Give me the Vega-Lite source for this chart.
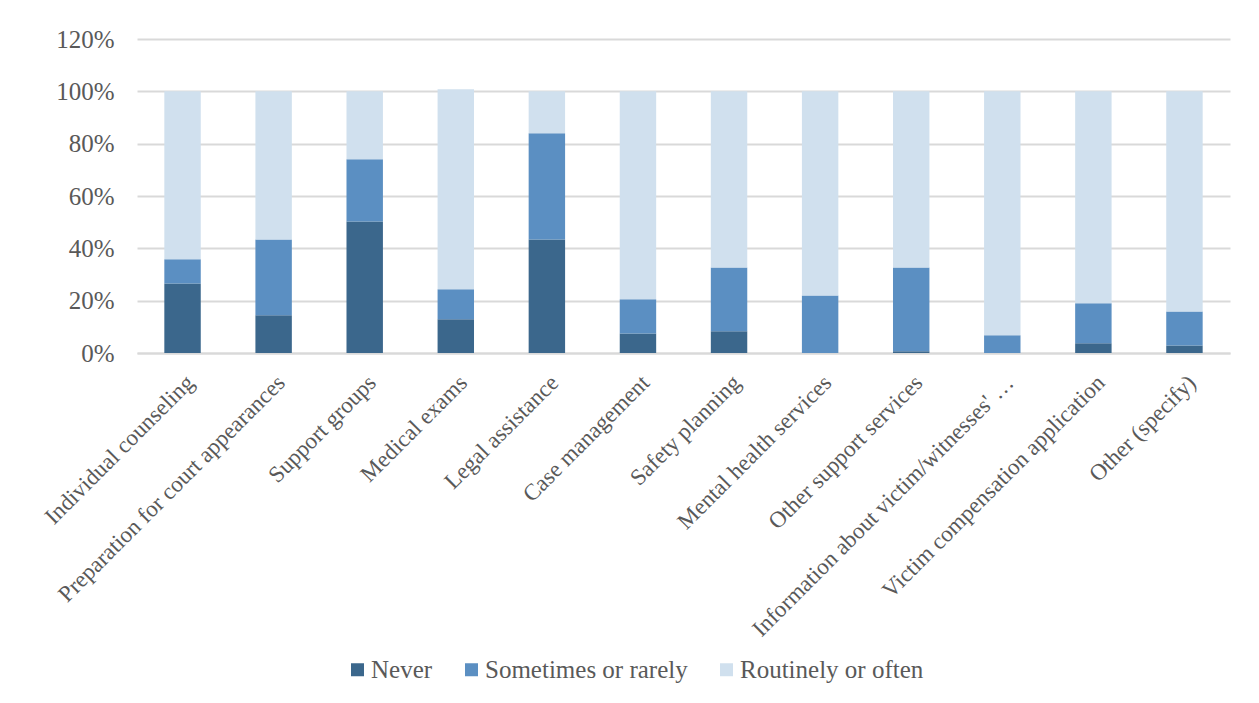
{
  "$schema": "https://vega.github.io/schema/vega-lite/v6.json",
  "autosize": {"type": "none"},
  "padding": {"left": 137, "top": 39, "right": 29, "bottom": 350},
  "width": 1093,
  "height": 314,
  "background": "white",
  "config": {
    "font": "Liberation Serif",
    "view": {"stroke": null},
    "axis": {"labelFont": "Liberation Serif", "labelColor": "#595959"},
    "legend": {"padding": 0}
  },
  "data": {
    "values": [
      {"service": "Individual counseling", "response": "Never", "ord": 1, "value": 0.266},
      {"service": "Individual counseling", "response": "Sometimes or rarely", "ord": 2, "value": 0.092},
      {"service": "Individual counseling", "response": "Routinely or often", "ord": 3, "value": 0.642},
      {"service": "Preparation for court appearances", "response": "Never", "ord": 1, "value": 0.144},
      {"service": "Preparation for court appearances", "response": "Sometimes or rarely", "ord": 2, "value": 0.290},
      {"service": "Preparation for court appearances", "response": "Routinely or often", "ord": 3, "value": 0.566},
      {"service": "Support groups", "response": "Never", "ord": 1, "value": 0.503},
      {"service": "Support groups", "response": "Sometimes or rarely", "ord": 2, "value": 0.237},
      {"service": "Support groups", "response": "Routinely or often", "ord": 3, "value": 0.260},
      {"service": "Medical exams", "response": "Never", "ord": 1, "value": 0.129},
      {"service": "Medical exams", "response": "Sometimes or rarely", "ord": 2, "value": 0.115},
      {"service": "Medical exams", "response": "Routinely or often", "ord": 3, "value": 0.764},
      {"service": "Legal assistance", "response": "Never", "ord": 1, "value": 0.434},
      {"service": "Legal assistance", "response": "Sometimes or rarely", "ord": 2, "value": 0.406},
      {"service": "Legal assistance", "response": "Routinely or often", "ord": 3, "value": 0.160},
      {"service": "Case management", "response": "Never", "ord": 1, "value": 0.075},
      {"service": "Case management", "response": "Sometimes or rarely", "ord": 2, "value": 0.130},
      {"service": "Case management", "response": "Routinely or often", "ord": 3, "value": 0.795},
      {"service": "Safety planning", "response": "Never", "ord": 1, "value": 0.083},
      {"service": "Safety planning", "response": "Sometimes or rarely", "ord": 2, "value": 0.244},
      {"service": "Safety planning", "response": "Routinely or often", "ord": 3, "value": 0.673},
      {"service": "Mental health services", "response": "Never", "ord": 1, "value": 0.0},
      {"service": "Mental health services", "response": "Sometimes or rarely", "ord": 2, "value": 0.220},
      {"service": "Mental health services", "response": "Routinely or often", "ord": 3, "value": 0.780},
      {"service": "Other support services", "response": "Never", "ord": 1, "value": 0.007},
      {"service": "Other support services", "response": "Sometimes or rarely", "ord": 2, "value": 0.320},
      {"service": "Other support services", "response": "Routinely or often", "ord": 3, "value": 0.673},
      {"service": "Information about victim/witnesses' …", "response": "Never", "ord": 1, "value": 0.0},
      {"service": "Information about victim/witnesses' …", "response": "Sometimes or rarely", "ord": 2, "value": 0.068},
      {"service": "Information about victim/witnesses' …", "response": "Routinely or often", "ord": 3, "value": 0.932},
      {"service": "Victim compensation application", "response": "Never", "ord": 1, "value": 0.037},
      {"service": "Victim compensation application", "response": "Sometimes or rarely", "ord": 2, "value": 0.153},
      {"service": "Victim compensation application", "response": "Routinely or often", "ord": 3, "value": 0.810},
      {"service": "Other (specify)", "response": "Never", "ord": 1, "value": 0.029},
      {"service": "Other (specify)", "response": "Sometimes or rarely", "ord": 2, "value": 0.130},
      {"service": "Other (specify)", "response": "Routinely or often", "ord": 3, "value": 0.841}
    ]
  },
  "mark": {"type": "bar"},
  "encoding": {
    "x": {
      "field": "service",
      "type": "nominal",
      "sort": null,
      "scale": {"paddingInner": 0.6, "paddingOuter": 0.3},
      "axis": {
        "title": null,
        "labelAngle": -45,
        "labelAlign": "right",
        "labelBaseline": "top",
        "labelPadding": 18,
        "labelDx": -4,
        "labelDy": -4,
        "labelFontSize": 23,
        "ticks": false,
        "domain": true,
        "domainColor": "#d9d9d9",
        "domainWidth": 2,
        "labelLimit": 600
      }
    },
    "y": {
      "field": "value",
      "type": "quantitative",
      "stack": "zero",
      "scale": {"domain": [0, 1.2], "nice": false},
      "axis": {
        "title": null,
        "format": ".0%",
        "values": [0, 0.2, 0.4, 0.6, 0.8, 1.0, 1.2],
        "domain": false,
        "ticks": false,
        "labelFontSize": 25,
        "labelPadding": 23,
        "gridColor": "#d9d9d9",
        "gridWidth": 2
      }
    },
    "color": {
      "field": "response",
      "type": "nominal",
      "scale": {
        "domain": ["Never", "Sometimes or rarely", "Routinely or often"],
        "range": ["#3b678c", "#5b8fc2", "#d0e0ee"]
      },
      "legend": {
        "title": null,
        "orient": "none",
        "direction": "horizontal",
        "legendX": 208,
        "legendY": 618,
        "padding": 0,
        "symbolType": "square",
        "symbolSize": 169,
        "symbolStrokeWidth": 0,
        "labelFont": "Liberation Serif",
        "labelFontSize": 25,
        "labelColor": "#595959",
        "labelOffset": 1,
        "columnPadding": 26,
        "labelLimit": 400
      }
    },
    "order": {"field": "ord", "type": "quantitative", "sort": "ascending"}
  }
}
